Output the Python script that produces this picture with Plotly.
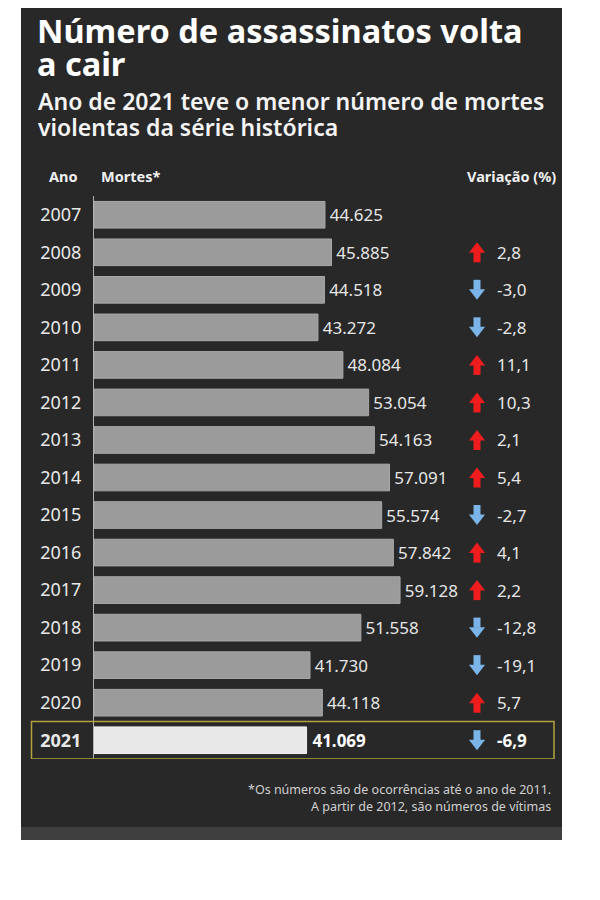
import plotly.graph_objects as go

# ---------------- data ----------------
years = ["2007", "2008", "2009", "2010", "2011", "2012", "2013", "2014",
         "2015", "2016", "2017", "2018", "2019", "2020", "2021"]
deaths = [44625, 45885, 44518, 43272, 48084, 53054, 54163, 57091,
          55574, 57842, 59128, 51558, 41730, 44118, 41069]
variation = [None, 2.8, -3.0, -2.8, 11.1, 10.3, 2.1, 5.4,
             -2.7, 4.1, 2.2, -12.8, -19.1, 5.7, -6.9]
highlight_year = "2021"

title_lines = ["Número de assassinatos volta", "a cair"]
subtitle_lines = ["Ano de 2021 teve o menor número de mortes",
                  "violentas da série histórica"]
header_year = "Ano"
header_deaths = "Mortes*"
header_var = "Variação (%)"
footnote_lines = ["*Os números são de ocorrências até o ano de 2011.",
                  "A partir de 2012, são números de vítimas"]

# ---------------- layout helpers ----------------
W, H = 600, 900
PAGE_OFF = 8  # the page body adds an 8px margin around the figure
FONT = "Noto Sans"


def px(x):
    return (x - PAGE_OFF) / W


def py(y):
    return 1 - (y - PAGE_OFF) / H


PLOT_LEFT, PLOT_TOP, PLOT_BOTTOM = 94, 196, 759
ROW_PX = (PLOT_BOTTOM - PLOT_TOP) / len(years)
PX_PER_DEATH = 0.005176
X_MAX = (W + PAGE_OFF - PLOT_LEFT) / PX_PER_DEATH

idx = list(range(len(years)))
hi = years.index(highlight_year)

bar_colors = ["#e8e8e8" if y == highlight_year else "#9b9b9b" for y in years]
line_colors = ["#f2f2f2" if y == highlight_year else "#a8a8a8" for y in years]
text_tmpl = ["\u2009<b>%{x:,}</b>" if y == highlight_year else "\u200a%{x:,}"
             for y in years]
text_colors = ["#ffffff" if y == highlight_year else "#e6e6e6" for y in years]
tick_text = ["<b>%s</b>" % y if y == highlight_year else y for y in years]

fig = go.Figure()

fig.add_trace(go.Bar(
    x=deaths, y=idx, orientation="h",
    width=0.71,
    marker=dict(color=bar_colors, line=dict(color=line_colors, width=1)),
    texttemplate=text_tmpl, textposition="outside",
    textfont=dict(family=FONT, size=17, color=text_colors),
    cliponaxis=False, hoverinfo="skip", showlegend=False,
))

# ---------------- variation arrows ----------------
ARROW_X = 477
VAR_TEXT_X = 495
HEAD_OFF = 3 / ROW_PX
STEM_OFF = 5 / ROW_PX

up_i = [i for i, v in enumerate(variation) if v is not None and v > 0]
dn_i = [i for i, v in enumerate(variation) if v is not None and v < 0]
RED = "#ee1c1c"
BLUE = "#7ab4e8"

fig.add_trace(go.Scatter(
    x=[ARROW_X] * len(up_i), y=[i + STEM_OFF for i in up_i], xaxis="x2",
    mode="markers",
    marker=dict(symbol="line-ns", size=7.2, line=dict(color=RED, width=7)),
    hoverinfo="skip", showlegend=False, cliponaxis=False))
fig.add_trace(go.Scatter(
    x=[ARROW_X] * len(up_i), y=[i - HEAD_OFF for i in up_i], xaxis="x2",
    mode="markers",
    marker=dict(symbol="triangle-up", size=14, color=RED, line=dict(width=0)),
    hoverinfo="skip", showlegend=False, cliponaxis=False))
fig.add_trace(go.Scatter(
    x=[ARROW_X] * len(dn_i), y=[i - STEM_OFF for i in dn_i], xaxis="x2",
    mode="markers",
    marker=dict(symbol="line-ns", size=7.2, line=dict(color=BLUE, width=7)),
    hoverinfo="skip", showlegend=False, cliponaxis=False))
fig.add_trace(go.Scatter(
    x=[ARROW_X] * len(dn_i), y=[i + HEAD_OFF for i in dn_i], xaxis="x2",
    mode="markers",
    marker=dict(symbol="triangle-down", size=14, color=BLUE, line=dict(width=0)),
    hoverinfo="skip", showlegend=False, cliponaxis=False))

annotations = []
for i, v in enumerate(variation):
    if v is None:
        continue
    s = ("%.1f" % v).replace(".", ",")
    if years[i] == highlight_year:
        s = "<b>%s</b>" % s
    annotations.append(dict(
        x=VAR_TEXT_X, y=i, xref="x2", yref="y", text=s, showarrow=False,
        xanchor="left", yanchor="middle",
        font=dict(family=FONT, size=17,
                  color="#ffffff" if years[i] == highlight_year else "#e6e6e6")))


def txt(x, y, text, size, color="#ffffff", weight="normal", xanchor="left"):
    annotations.append(dict(
        x=px(x), y=py(y), xref="paper", yref="paper", text=text,
        showarrow=False, xanchor=xanchor, yanchor="middle",
        font=dict(family=FONT, size=size, color=color, weight=weight)))


txt(35, 30, title_lines[0], 32.5, weight="bold")
txt(35, 64, title_lines[1], 32.5, weight="bold")
txt(36, 101, subtitle_lines[0], 23, color="#f4f4f4", weight=600)
txt(36, 127, subtitle_lines[1], 23, color="#f4f4f4", weight=600)
txt(47, 176, header_year, 14.5, color="#f0f0f0", weight="bold")
txt(99, 176, header_deaths, 14.5, color="#f0f0f0", weight="bold")
txt(558, 176, header_var, 14.5, color="#f0f0f0", weight="bold", xanchor="right")
txt(553, 789, footnote_lines[0], 12.5, color="#d0d0d0", xanchor="right")
txt(553, 806, footnote_lines[1], 12.5, color="#d0d0d0", xanchor="right")

shapes = [
    dict(type="rect", xref="paper", yref="paper", x0=px(21), x1=px(562),
         y0=py(840), y1=1.01, fillcolor="#282828", line=dict(width=0), layer="below"),
    dict(type="rect", xref="paper", yref="paper", x0=px(21), x1=px(562),
         y0=py(840), y1=py(827), fillcolor="#3f3f3f", line=dict(width=0), layer="below"),
    dict(type="rect", xref="paper", yref="y", x0=px(31.5), x1=px(554),
         y0=hi - 0.5, y1=hi + 0.5, fillcolor="rgba(0,0,0,0)",
         line=dict(color="#b3a23c", width=1.5), layer="above"),
]

fig.update_layout(
    width=W, height=H,
    margin=dict(l=0, r=0, t=0, b=0),
    paper_bgcolor="#ffffff", plot_bgcolor="rgba(0,0,0,0)",
    separators=",.",
    showlegend=False,
    xaxis=dict(domain=[px(PLOT_LEFT), 1], range=[0, X_MAX], visible=False,
               fixedrange=True),
    xaxis2=dict(overlaying="x", range=[PLOT_LEFT, W + PAGE_OFF], visible=False,
                fixedrange=True),
    yaxis=dict(domain=[py(PLOT_BOTTOM), py(PLOT_TOP)],
               range=[len(years) - 0.5, -0.5],
               tickvals=idx, ticktext=tick_text,
               tickfont=dict(family=FONT, size=18, color="#e8e8e8"),
               ticks="", showgrid=False, zeroline=False,
               showline=True, linecolor="#b0b0b0", linewidth=1,
               ticklabelstandoff=8, fixedrange=True),
    annotations=annotations,
    shapes=shapes,
)

fig.write_html("out.html")
